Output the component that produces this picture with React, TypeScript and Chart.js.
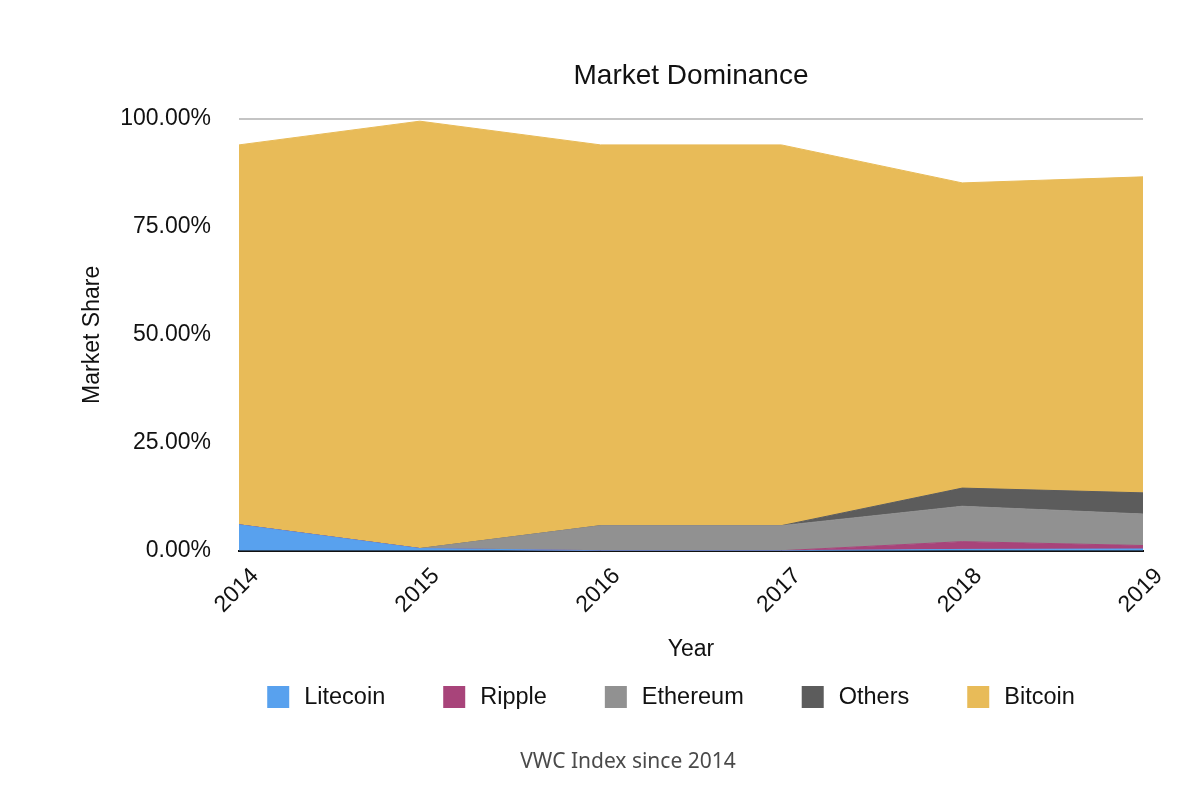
import React, { useEffect, useRef } from 'react';
import { Chart, registerables } from 'chart.js';

Chart.register(...registerables);

const years = ['2014', '2015', '2016', '2017', '2018', '2019'];
const litecoin = [6.0, 0.5, 0, 0, 0.3, 0.4];
const ripple = [0, 0, 0, 0, 1.8, 0.8];
const ethereum = [0, 0, 5.8, 5.8, 8.2, 7.3];
const others = [0, 0, 0, 0, 4.2, 4.9];
const bitcoin = [88.0, 99.0, 88.2, 88.2, 70.7, 73.2];

const seriesNames = ['Litecoin', 'Ripple', 'Ethereum', 'Others', 'Bitcoin'];
const seriesColors = ['#58A1EE', '#A8447A', '#919191', '#5C5C5C', '#E8BB58'];
const seriesValues = [litecoin, ripple, ethereum, others, bitcoin];
const yTicks = [0, 25, 50, 75, 100];

const FONT = '"Liberation Sans", Arial, Helvetica, sans-serif';

// title, legend and caption drawn on the canvas around the plot
const decorPlugin = {
  id: 'decor',
  afterDraw(chart) {
    const { ctx, chartArea } = chart;
    const mid = (chartArea.left + chartArea.right) / 2;
    ctx.save();
    ctx.fillStyle = '#111';
    ctx.font = `28px ${FONT}`;
    ctx.textAlign = 'center';
    ctx.textBaseline = 'middle';
    ctx.fillText('Market Dominance', mid, 76);

    // legend
    ctx.font = `23.5px ${FONT}`;
    const box = 22;
    const gapText = 15;
    const gapItem = 58;
    const widths = seriesNames.map((n) => box + gapText + ctx.measureText(n).width);
    const total = widths.reduce((a, b) => a + b, 0) + gapItem * (seriesNames.length - 1);
    let x = 671 - total / 2;
    const ly = 697;
    ctx.textAlign = 'left';
    seriesNames.forEach((n, i) => {
      ctx.fillStyle = seriesColors[i];
      ctx.fillRect(x, ly - box / 2, box, box);
      ctx.fillStyle = '#111';
      ctx.fillText(n, x + box + gapText, ly + 1);
      x += widths[i] + gapItem;
    });

    ctx.font = `21px "Noto Sans", "Open Sans", sans-serif`;
    ctx.fillStyle = '#4a4a4a';
    ctx.textAlign = 'center';
    ctx.fillText('VWC Index since 2014', 628, 762);
    ctx.restore();
  },
};

const App = () => {
  const canvasRef = useRef(null);
  const chartRef = useRef(null);

  useEffect(() => {
    if (chartRef.current) {
      chartRef.current.destroy();
    }
    document.body.style.margin = '0';

    chartRef.current = new Chart(canvasRef.current, {
      type: 'line',
      data: {
        labels: years,
        datasets: seriesValues.map((vals, i) => ({
          label: seriesNames[i],
          data: vals,
          backgroundColor: seriesColors[i],
          borderColor: seriesColors[i],
          borderWidth: 1,
          fill: i === 0 ? 'origin' : '-1',
          pointRadius: 0,
          tension: 0,
        })),
      },
      options: {
        responsive: true,
        maintainAspectRatio: false,
        animation: false,
        layout: {
          padding: { top: 119, left: 79, right: 57, bottom: 138 },
        },
        plugins: {
          legend: { display: false },
          title: { display: false },
          tooltip: { enabled: false },
        },
        scales: {
          x: {
            offset: false,
            grid: { display: false },
            border: { display: true, color: '#111', width: 2 },
            afterFit(scale) {
              scale.paddingLeft = 0;
              scale.paddingRight = 0;
            },
            ticks: {
              color: '#111',
              font: { family: FONT, size: 23 },
              minRotation: 45,
              maxRotation: 45,
              padding: 4,
              labelOffset: 16,
            },
            title: {
              display: true,
              text: 'Year',
              color: '#111',
              font: { family: FONT, size: 23 },
              padding: { top: 13, bottom: 0 },
            },
          },
          y: {
            stacked: true,
            min: 0,
            max: 100,
            afterBuildTicks(scale) {
              scale.ticks = yTicks.map((v) => ({ value: v }));
            },
            afterFit(scale) {
              scale.width = 160;
            },
            grid: {
              color: (c) => (c.tick && c.tick.value === 100 ? '#C4C4C4' : 'rgba(0,0,0,0)'),
              lineWidth: 2,
              drawTicks: false,
            },
            border: { display: false },
            ticks: {
              color: '#111',
              font: { family: FONT, size: 23 },
              padding: 28,
              callback: (v) => Number(v).toFixed(2) + '%',
            },
            title: {
              display: true,
              text: 'Market Share',
              color: '#111',
              font: { family: FONT, size: 23 },
              padding: { top: 0, bottom: 16 },
            },
          },
        },
      },
      plugins: [decorPlugin],
    });

    return () => {
      if (chartRef.current) {
        chartRef.current.destroy();
        chartRef.current = null;
      }
    };
  }, []);

  return (
    <div style={{ width: 1200, height: 801, background: '#fff' }}>
      <canvas ref={canvasRef}></canvas>
    </div>
  );
};

export default App;
